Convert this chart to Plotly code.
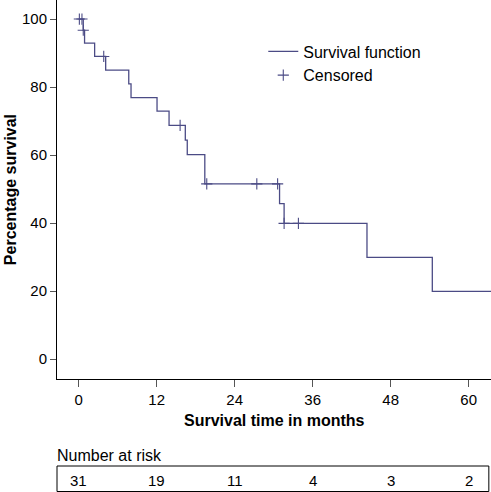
import plotly.graph_objects as go

# Kaplan-Meier step data (months, % survival)
step_times = [0, 0.7, 0.9, 2.45, 4.15, 7.7, 8.05, 12.05, 13.9, 16.4, 16.7, 19.4, 30.9, 31.6, 44.35, 54.4, 64]
step_surv = [100, 96.7, 92.9, 89.0, 85.0, 80.9, 76.9, 72.9, 68.7, 64.4, 60.1, 51.5, 45.7, 39.9, 29.9, 19.9, 19.9]

# Censored observations
cens_times = [0.1, 0.5, 0.7, 3.85, 15.6, 19.7, 27.4, 30.6, 31.6, 33.8]
cens_surv = [100, 100, 96.7, 89.0, 68.7, 51.5, 51.5, 51.5, 39.9, 39.9]

# Number at risk
risk_times = [0, 12, 24, 36, 48, 60]
risk_counts = [31, 19, 11, 4, 3, 2]

x_ticks = [0, 12, 24, 36, 48, 60]
y_ticks = [0, 20, 40, 60, 80, 100]

LINE = "#4b4b85"
FONT = "Liberation Sans, Arial, Helvetica, sans-serif"

fig = go.Figure()
fig.add_trace(go.Scatter(
    x=step_times, y=step_surv, mode="lines", line=dict(shape="hv", color=LINE, width=1.3),
    name="Survival function"))
fig.add_trace(go.Scatter(
    x=cens_times, y=cens_surv, mode="markers",
    marker=dict(symbol="cross-thin", size=8, line=dict(color=LINE, width=1.1), color=LINE),
    name="Censored"))

ann = [
    dict(text="<b>Percentage survival</b>", x=-0.108, y=1 - 190 / 492, xref="paper", yref="paper",
         textangle=-90, showarrow=False, font=dict(size=16, color="black"), xanchor="center", yanchor="middle"),
    dict(text="<b>Survival time in months</b>", x=0.5, y=1 - 420 / 492, xref="paper", yref="paper",
         showarrow=False, font=dict(size=16, color="black"), xanchor="center", yanchor="middle"),
    dict(text="Number at risk", x=0, y=1 - 455 / 492, xref="paper", yref="paper",
         showarrow=False, font=dict(size=16, color="black"), xanchor="left", yanchor="middle", xshift=-2),
]
for t, c in zip(risk_times, risk_counts):
    ann.append(dict(text=str(c), x=t, y=1 - 480 / 492, xref="x", yref="paper", showarrow=False,
                    font=dict(size=15, color="black"), xanchor="center", yanchor="middle"))

shapes = [dict(type="rect", xref="paper", yref="paper", x0=0, x1=0.995,
               y0=1 - 491.5 / 492, y1=1 - 466 / 492, line=dict(color="black", width=1))]

fig.update_layout(
    width=491, height=492,
    margin=dict(l=57, r=0, t=0, b=0),
    paper_bgcolor="white", plot_bgcolor="white",
    font=dict(family=FONT, size=15, color="black"),
    showlegend=True,
    legend=dict(x=0.4753, y=0.930, xanchor="left", yanchor="top", bgcolor="rgba(0,0,0,0)",
                font=dict(size=16), itemwidth=30, tracegroupgap=0),
    xaxis=dict(range=[-3.34, 63.43], tickvals=x_ticks, ticks="outside", ticklen=7, tickcolor="#555",
               showline=True, linecolor="black", linewidth=1, showgrid=False, zeroline=False,
               tickfont=dict(size=15)),
    yaxis=dict(range=[-5.97, 105.6], domain=[1 - 379.3 / 492, 1], tickvals=y_ticks, ticks="outside",
               ticklen=6, tickcolor="#555", showline=True, linecolor="black", linewidth=1,
               showgrid=False, zeroline=False, tickfont=dict(size=15)),
    annotations=ann, shapes=shapes,
)
fig.write_html("out.html", config={"displayModeBar": False},
               post_script="document.body.style.margin='0';document.body.style.overflow='hidden';")
